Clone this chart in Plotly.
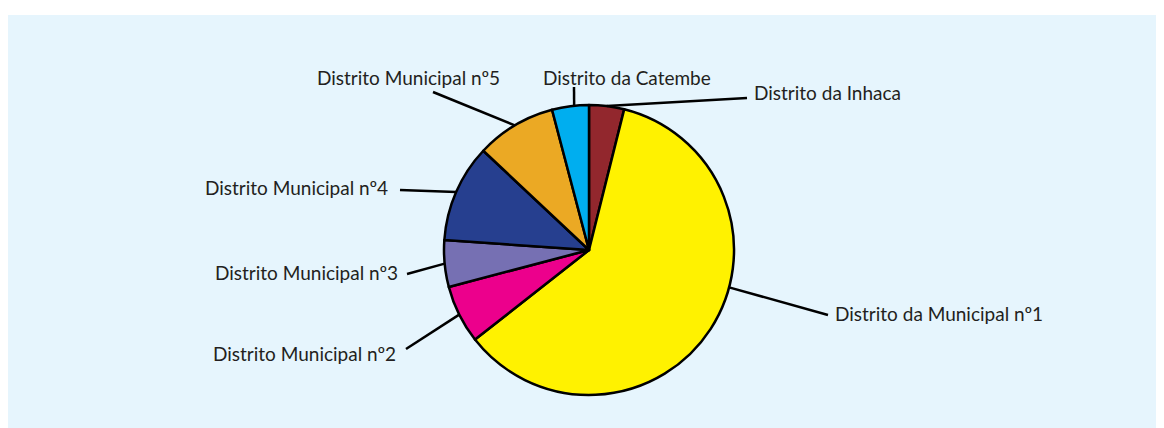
"""
Pizza: distribuição por distrito municipal (Maputo).
Fatias desenhadas pelo Plotly; rótulos externos com linhas de chamada
calculadas a partir do ângulo médio de cada fatia.
"""

import math

import plotly.graph_objects as go

W, H = 1164, 428

distritos = [
    "Distrito da Inhaca",
    "Distrito da Municipal nº1",
    "Distrito Municipal nº2",
    "Distrito Municipal nº3",
    "Distrito Municipal nº4",
    "Distrito Municipal nº5",
    "Distrito da Catembe",
]
percentagens = [3.9, 60.5, 6.5, 5.2, 10.9, 8.9, 4.1]
cores = ["#92272D", "#FFF200", "#EC008C", "#7670B3", "#263F8F", "#EBA924", "#00AEEF"]

# posição (px na página) do fim de cada linha de chamada e do texto;
# "desvio" desloca o ponto de saída da linha (graus) em relação ao meio da fatia
rotulos = {
    "Distrito da Inhaca": dict(fim=(747, 98), texto=(752, 92), anc="left"),
    "Distrito da Municipal nº1": dict(fim=(828, 315), texto=(833, 313), anc="left", desvio=-18),
    "Distrito Municipal nº2": dict(fim=(406, 349), texto=(398, 353), anc="right"),
    "Distrito Municipal nº3": dict(fim=(407, 274), texto=(400, 272), anc="right"),
    "Distrito Municipal nº4": dict(fim=(400, 190), texto=(390, 188), anc="right"),
    "Distrito Municipal nº5": dict(fim=(433, 92), texto=(502, 77), anc="right"),
    "Distrito da Catembe": dict(fim=(574, 87), texto=(627, 77), anc="center", desvio=1.5),
}

CX, CY, R = 589, 250, 145
OFF = 8  # margem do <body> da página
FONTE = dict(family="Lato", size=19, color="#231F20")


def px_x(x):
    return (x - OFF) / W


def px_y(y):
    return 1 - (y - OFF) / H


fig = go.Figure(
    go.Pie(
        labels=distritos,
        values=percentagens,
        sort=False,
        direction="clockwise",
        rotation=0,
        textinfo="none",
        hoverinfo="label+percent",
        marker=dict(colors=cores, line=dict(color="black", width=2.5)),
        domain=dict(
            x=[px_x(CX - R), px_x(CX + R)],
            y=[px_y(CY + R), px_y(CY - R)],
        ),
        showlegend=False,
    )
)

# painel azul claro
fig.add_shape(
    type="rect", xref="paper", yref="paper", layer="below",
    x0=0, x1=1, y0=0, y1=px_y(15),
    fillcolor="#E6F5FD", line=dict(width=0),
)

total = sum(percentagens)
acum = 0
for nome, v in zip(distritos, percentagens):
    r = rotulos[nome]
    meio = (acum + v / 2) / total * 2 * math.pi + math.radians(r.get("desvio", 0))
    acum += v
    ex = CX + R * math.sin(meio)
    ey = CY - R * math.cos(meio)
    fig.add_shape(
        type="line", xref="paper", yref="paper",
        x0=px_x(ex), y0=px_y(ey), x1=px_x(r["fim"][0]), y1=px_y(r["fim"][1]),
        line=dict(color="black", width=2.5),
    )
    fig.add_annotation(
        xref="paper", yref="paper",
        x=px_x(r["texto"][0]), y=px_y(r["texto"][1]),
        xanchor=r["anc"], yanchor="middle",
        text=nome, showarrow=False, font=FONTE,
    )

fig.update_layout(
    width=W,
    height=H,
    margin=dict(t=0, b=0, l=0, r=0),
    paper_bgcolor="white",
    plot_bgcolor="white",
)

fig.write_html("out.html")
